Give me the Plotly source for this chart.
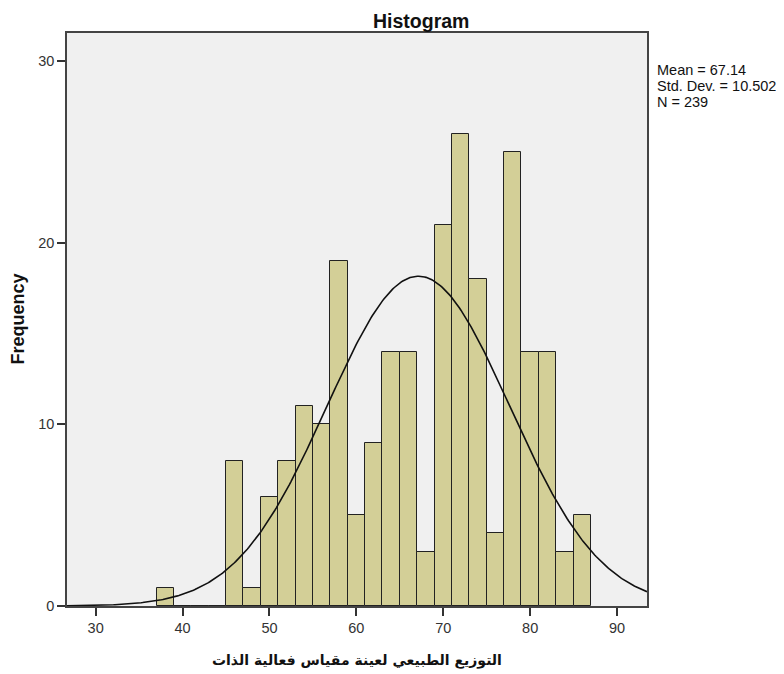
import numpy as np
import plotly.graph_objects as go

# Data (bin width 2)
bin_starts = [37, 39, 41, 43, 45, 47, 49, 51, 53, 55, 57, 59, 61, 63, 65, 67, 69, 71, 73, 75, 77, 79, 81, 83, 85]
counts =     [1,  0,  0,  0,  8,  1,  6,  8,  11, 10, 19, 5,  9,  14, 14, 3,  21, 26, 18, 4,  25, 14, 14, 3,  5]
BIN_WIDTH = 2
MEAN = 67.14
SD = 10.502
N = 239

x_ticks = [30, 40, 50, 60, 70, 80, 90]
y_ticks = [0, 10, 20, 30]
x_range = [26.7, 93.45]
y_range = [0, 31.55]

title_text = "Histogram"
x_title = "التوزيع الطبيعي لعينة مقياس فعالية الذات"
y_title = "Frequency"
stats_lines = ["Mean = 67.14", "Std. Dev. = 10.502", "N = 239"]

centers = [s + BIN_WIDTH / 2 for s in bin_starts]

# Normal curve implied by the displayed Mean / Std. Dev. / N
xc = np.linspace(x_range[0], x_range[1], 400)
yc = N * BIN_WIDTH / (SD * np.sqrt(2 * np.pi)) * np.exp(-0.5 * ((xc - MEAN) / SD) ** 2)

fig = go.Figure()
fig.add_trace(go.Bar(
    x=centers, y=counts, width=BIN_WIDTH,
    marker=dict(color="#D3CF97", line=dict(color="#222222", width=1)),
    hoverinfo="skip", showlegend=False,
))
fig.add_trace(go.Scatter(
    x=xc, y=yc, mode="lines",
    line=dict(color="#111111", width=1.6),
    hoverinfo="skip", showlegend=False,
))

axis_common = dict(
    showgrid=False, zeroline=False, showline=True, mirror=True,
    linecolor="#444444", linewidth=1.5,
    ticks="outside", ticklen=8, tickwidth=1.5, tickcolor="#333333",
    tickfont=dict(family="Arial, Liberation Sans, sans-serif", size=14.5, color="#333333"),
)

annotations = [
    dict(text="<b>" + title_text + "</b>", xref="paper", yref="paper",
         x=(413 - 59) / 580, y=1, yshift=25, xanchor="center", yanchor="top", showarrow=False,
         font=dict(size=19.5, color="#111111", family="Arial, Liberation Sans, sans-serif")),
    dict(text="<b>" + y_title + "</b>", xref="paper", yref="paper",
         x=0, xshift=-50, y=0.5, textangle=-90, xanchor="center", yanchor="middle",
         showarrow=False,
         font=dict(size=18, color="#111111", family="Arial, Liberation Sans, sans-serif")),
    dict(text="<b>" + x_title + "</b>", xref="paper", yref="paper",
         x=0.5, y=0, yshift=-54, xanchor="center", yanchor="middle", showarrow=False,
         font=dict(size=14, color="#111111", family="DejaVu Sans, Arial, sans-serif")),
]
for i, line in enumerate(stats_lines):
    annotations.append(dict(
        text=line, xref="paper", yref="paper",
        x=1, xshift=8, y=1, yshift=-37 - 15.8 * i, xanchor="left", yanchor="middle",
        showarrow=False,
        font=dict(size=14.5, color="#111111", family="Arial, Liberation Sans, sans-serif")))

fig.update_layout(
    width=776, height=666,
    margin=dict(l=59, r=137, t=25, b=68),
    paper_bgcolor="white",
    plot_bgcolor="#F0F0F0",
    bargap=0,
    xaxis=dict(range=x_range, tickvals=x_ticks, **axis_common),
    yaxis=dict(range=y_range, tickvals=y_ticks, **axis_common),
    font=dict(family="Arial, Liberation Sans, DejaVu Sans, sans-serif"),
    annotations=annotations,
)

fig.write_html("out.html")
